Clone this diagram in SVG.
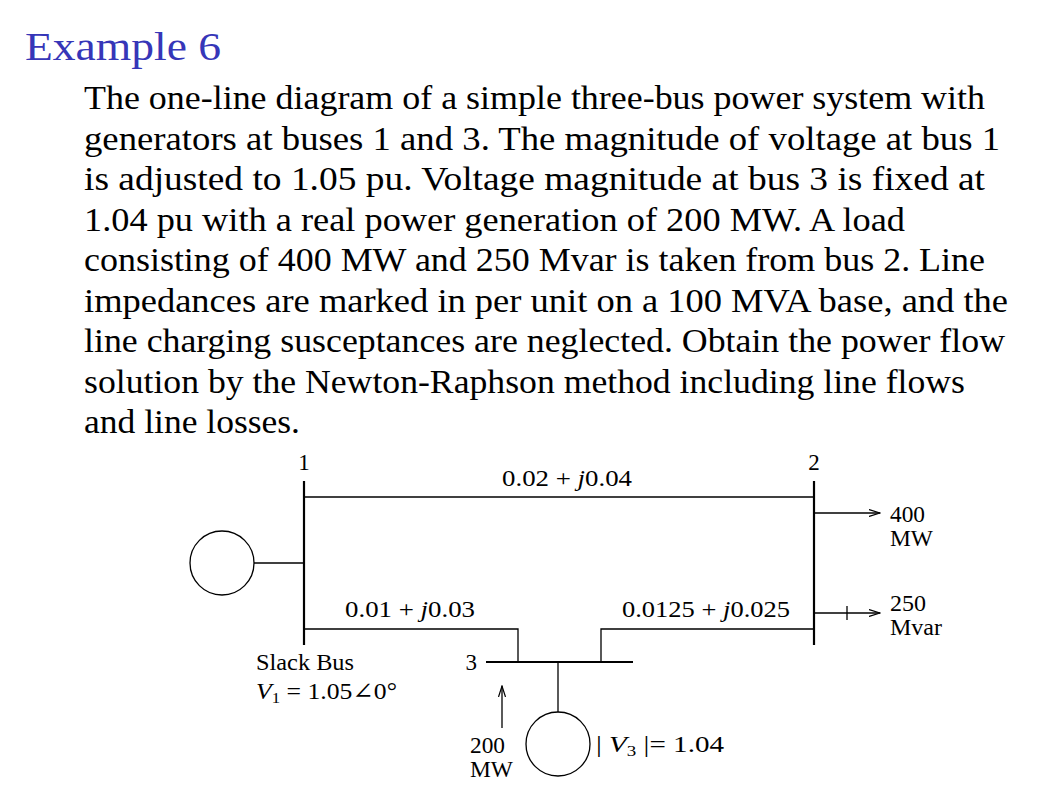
<svg xmlns="http://www.w3.org/2000/svg" width="1047" height="790" viewBox="0 0 1047 790">
<style>
text{font-family:"Liberation Serif","DejaVu Serif",serif;fill:#000}
.p{font-size:33px}
.d{font-size:23px}
.ln{stroke:#000;stroke-width:1.3;fill:none}
.bus{stroke:#000;stroke-width:2.2;fill:none}
</style>
<defs><marker id="ar" markerWidth="12" markerHeight="8" refX="11" refY="4" orient="auto" markerUnits="userSpaceOnUse"><path d="M0,0.5 L11,4 L0,7.5" fill="none" stroke="#000" stroke-width="1.2"/></marker></defs>
<rect width="1047" height="790" fill="#fff"/>
<text x="25" y="60" style="font-size:40px;fill:#3636b8" textLength="196" lengthAdjust="spacingAndGlyphs">Example 6</text>
<g>
<text class="p" x="84" y="109" textLength="901" lengthAdjust="spacingAndGlyphs">The one-line diagram of a simple three-bus power system with</text>
<text class="p" x="84" y="150" textLength="916" lengthAdjust="spacingAndGlyphs">generators at buses 1 and 3. The magnitude of voltage at bus 1</text>
<text class="p" x="84" y="190" textLength="901" lengthAdjust="spacingAndGlyphs">is adjusted to 1.05 pu. Voltage magnitude at bus 3 is fixed at</text>
<text class="p" x="84" y="231" textLength="821" lengthAdjust="spacingAndGlyphs">1.04 pu with a real power generation of 200 MW. A load</text>
<text class="p" x="84" y="271" textLength="901" lengthAdjust="spacingAndGlyphs">consisting of 400 MW and 250 Mvar is taken from bus 2. Line</text>
<text class="p" x="84" y="312" textLength="924" lengthAdjust="spacingAndGlyphs">impedances are marked in per unit on a 100 MVA base, and the</text>
<text class="p" x="84" y="352" textLength="921" lengthAdjust="spacingAndGlyphs">line charging susceptances are neglected. Obtain the power flow</text>
<text class="p" x="84" y="393" textLength="881" lengthAdjust="spacingAndGlyphs">solution by the Newton-Raphson method including line flows</text>
<text class="p" x="84" y="433" textLength="216" lengthAdjust="spacingAndGlyphs">and line losses.</text>
</g>
<g id="connectors">
<path class="ln" d="M304,497 H814"/>
<path class="ln" d="M304,629 H518 V662"/>
<path class="ln" d="M601,662 V629 H814"/>
<path class="ln" d="M254,563 H304"/>
<path class="ln" d="M558,662 V712"/>
<path class="ln" d="M814,513 H880" marker-end="url(#ar)"/>
<path class="ln" d="M814,613 H880" marker-end="url(#ar)"/>
<path class="ln" d="M847,606 V620"/>
<path class="ln" d="M502,728 V686" marker-end="url(#ar)"/>
</g>
<g id="bus1"><path class="bus" d="M304,481 V645"/><text class="d" x="304" y="470" text-anchor="middle">1</text>
<text class="d" x="256" y="670" textLength="98" lengthAdjust="spacingAndGlyphs">Slack Bus</text>
<text class="d" x="256" y="699" textLength="141" lengthAdjust="spacingAndGlyphs"><tspan font-style="italic">V</tspan><tspan font-size="15" dy="4">1</tspan><tspan dy="-4"> = 1.05∠0°</tspan></text></g>
<g id="bus2"><path class="bus" d="M814,481 V645"/><text class="d" x="814" y="470" text-anchor="middle">2</text></g>
<g id="bus3"><path class="bus" d="M486,662 H633"/><text class="d" x="477" y="670" text-anchor="end">3</text></g>
<g id="gen1"><circle class="ln" cx="222" cy="563" r="32"/></g>
<g id="gen3"><circle class="ln" cx="558" cy="744" r="32"/>
<text class="d" x="596" y="752" textLength="128" lengthAdjust="spacingAndGlyphs">| <tspan font-style="italic">V</tspan><tspan font-size="15" dy="4">3</tspan><tspan dy="-4"> |= 1.04</tspan></text></g>
<g id="labels">
<text class="d" x="502" y="486" textLength="130" lengthAdjust="spacingAndGlyphs">0.02 + <tspan font-style="italic">j</tspan>0.04</text>
<text class="d" x="345" y="617" textLength="130" lengthAdjust="spacingAndGlyphs">0.01 + <tspan font-style="italic">j</tspan>0.03</text>
<text class="d" x="622" y="617" textLength="168" lengthAdjust="spacingAndGlyphs">0.0125 + <tspan font-style="italic">j</tspan>0.025</text>
<text class="d" x="470" y="753" textLength="35" lengthAdjust="spacingAndGlyphs">200</text><text class="d" x="470" y="777" textLength="43" lengthAdjust="spacingAndGlyphs">MW</text>
<text class="d" x="890" y="522" textLength="35" lengthAdjust="spacingAndGlyphs">400</text><text class="d" x="890" y="546" textLength="43" lengthAdjust="spacingAndGlyphs">MW</text>
<text class="d" x="890" y="611" textLength="36" lengthAdjust="spacingAndGlyphs">250</text><text class="d" x="890" y="635" textLength="52" lengthAdjust="spacingAndGlyphs">Mvar</text>
</g>
</svg>
